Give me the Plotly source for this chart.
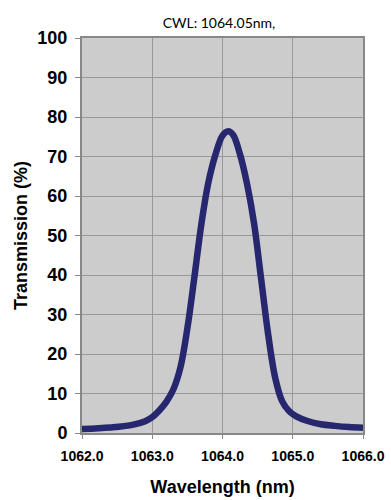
import plotly.graph_objects as go

wavelength = [1062.0, 1062.4, 1062.7, 1062.9, 1063.0, 1063.1, 1063.2, 1063.3, 1063.4,
              1063.5, 1063.6, 1063.7, 1063.8, 1063.9, 1064.0, 1064.08, 1064.15,
              1064.25, 1064.35, 1064.45, 1064.55, 1064.65, 1064.75, 1064.85, 1064.95,
              1065.05, 1065.2, 1065.4, 1065.6, 1065.8, 1066.0]
transmission = [1.0, 1.4, 2.0, 3.0, 4.0, 5.7, 7.9, 11.0, 16.5,
                26.5, 39.5, 53.0, 63.5, 70.5, 75.3, 76.4, 75.5,
                70.5, 63.0, 53.0, 39.0, 25.0, 14.0, 8.0, 5.5,
                4.2, 3.1, 2.2, 1.8, 1.5, 1.3]

x_ticks = [1062.0, 1063.0, 1064.0, 1065.0, 1066.0]
x_tick_labels = ["1062.0", "1063.0", "1064.0", "1065.0", "1066.0"]
y_ticks = [0, 10, 20, 30, 40, 50, 60, 70, 80, 90, 100]

title_text = "CWL: 1064.05nm,"
x_title = "Wavelength (nm)"
y_title = "Transmission (%)"

fig = go.Figure()
fig.add_trace(go.Scatter(
    x=wavelength, y=transmission, mode="lines",
    line=dict(color="#27276f", width=6.5, shape="spline", smoothing=1.0),
    hoverinfo="skip", showlegend=False,
))

fig.update_layout(
    width=391, height=500,
    margin=dict(l=82, r=28, t=38, b=67, autoexpand=False),
    paper_bgcolor="white",
    plot_bgcolor="#cccccc",
    font=dict(family="Liberation Sans, Arial, sans-serif", color="black"),
    title=dict(text=title_text, x=0.56, xanchor="center", y=0.954, yanchor="middle",
               font=dict(family="Lato, sans-serif", size=14, color="black")),
    xaxis=dict(
        range=[1062, 1066], tickvals=x_ticks, ticktext=x_tick_labels,
        showgrid=True, gridcolor="#999999", gridwidth=1,
        showline=True, linecolor="#888888", linewidth=2, mirror=True,
        ticks="outside", ticklen=4, tickcolor="#888888",
        ticklabelstandoff=5, automargin=False,
        tickfont=dict(size=14, family="Liberation Sans, Arial, sans-serif", weight="bold"),
        title=dict(text=x_title, standoff=18,
                   font=dict(size=18, family="Liberation Sans, Arial, sans-serif", weight="bold")),
        zeroline=False,
    ),
    yaxis=dict(
        range=[0, 100], tickvals=y_ticks,
        showgrid=True, gridcolor="#999999", gridwidth=1,
        showline=True, linecolor="#888888", linewidth=2, mirror=True,
        ticks="outside", ticklen=5, tickcolor="#888888",
        ticklabelstandoff=4, automargin=False,
        tickfont=dict(size=18, family="Liberation Sans, Arial, sans-serif", weight="bold"),
        title=dict(text=y_title, standoff=5,
                   font=dict(size=18, family="Liberation Sans, Arial, sans-serif", weight="bold")),
        zeroline=False,
    ),
)

fig.write_html("out.html")
